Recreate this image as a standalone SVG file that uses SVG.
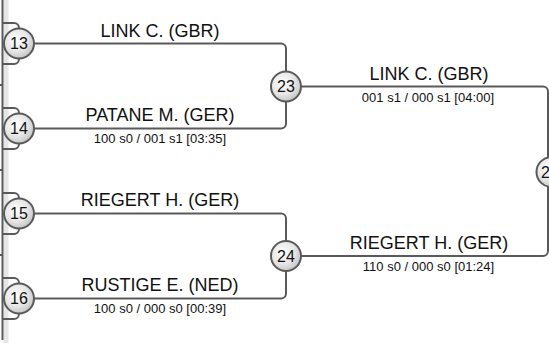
<svg xmlns="http://www.w3.org/2000/svg" width="549" height="343" viewBox="0 0 549 343">
  <defs>
    <radialGradient id="ball" cx="40%" cy="38%" r="65%">
      <stop offset="0" stop-color="#ffffff"/>
      <stop offset="0.6" stop-color="#e6e6e6"/>
      <stop offset="1" stop-color="#c4c4c4"/>
    </radialGradient>
    <style>
      .ln { fill: none; stroke: #5a5a5a; stroke-width: 2; }
      .node circle { fill: url(#ball); stroke: #5a5a5a; stroke-width: 2; }
      .num { font-family: "Liberation Sans", Arial, sans-serif; font-size: 16px; fill: #111; text-anchor: middle; }
      .name { font-family: "Liberation Sans", Arial, sans-serif; font-size: 18px; fill: #111; text-anchor: middle; }
      .score { font-family: "Liberation Sans", Arial, sans-serif; font-size: 13px; fill: #111; text-anchor: middle; }
    </style>
  </defs>
  <rect width="549" height="343" fill="#ffffff"/>
  <rect x="3.5" y="0" width="5" height="343" fill="#e6e6e6"/>

  <g id="connectors">
    <path class="ln" d="M2.5,0 V340"/>
    <path class="ln" d="M0,85 H3 M0,170 H3 M0,255 H3"/>
    <path class="ln" d="M3,23 H14 A5,5 0 0 1 19,28 V43.5 M3,64 H14 A5,5 0 0 0 19,59 V43.5"/>
    <path class="ln" d="M3,108 H14 A5,5 0 0 1 19,113 V128.5 M3,149 H14 A5,5 0 0 0 19,144 V128.5"/>
    <path class="ln" d="M3,193 H14 A5,5 0 0 1 19,198 V213.5 M3,234 H14 A5,5 0 0 0 19,229 V213.5"/>
    <path class="ln" d="M3,278 H14 A5,5 0 0 1 19,283 V298.5 M3,319 H14 A5,5 0 0 0 19,314 V298.5"/>
    <path class="ln" d="M34,43.5 H281 A5,5 0 0 1 286,48.5 V86.5"/>
    <path class="ln" d="M34,128.5 H281 A5,5 0 0 0 286,123.5 V86.5"/>
    <path class="ln" d="M34,213.5 H281 A5,5 0 0 1 286,218.5 V256"/>
    <path class="ln" d="M34,298.5 H281 A5,5 0 0 0 286,293.5 V256"/>
    <path class="ln" d="M301,86.5 H543 A5,5 0 0 1 548,91.5 V172"/>
    <path class="ln" d="M301,256 H543 A5,5 0 0 0 548,251 V172"/>
  </g>

  <g id="node-13" class="node">
    <circle cx="19" cy="43.5" r="15"/>
    <text class="num" x="19" y="49">13</text>
    <text class="name" x="160" y="36.5">LINK C. (GBR)</text>
  </g>
  <g id="node-14" class="node">
    <circle cx="19" cy="128.5" r="15"/>
    <text class="num" x="19" y="134">14</text>
    <text class="name" x="160" y="121">PATANE M. (GER)</text>
    <text class="score" x="160" y="142.5">100 s0 / 001 s1 [03:35]</text>
  </g>
  <g id="node-15" class="node">
    <circle cx="19" cy="213.5" r="15"/>
    <text class="num" x="19" y="219">15</text>
    <text class="name" x="160" y="206">RIEGERT H. (GER)</text>
  </g>
  <g id="node-16" class="node">
    <circle cx="19" cy="298.5" r="15"/>
    <text class="num" x="19" y="304">16</text>
    <text class="name" x="160" y="291">RUSTIGE E. (NED)</text>
    <text class="score" x="160" y="313">100 s0 / 000 s0 [00:39]</text>
  </g>
  <g id="node-23" class="node">
    <circle cx="286" cy="86.5" r="15"/>
    <text class="num" x="286" y="92">23</text>
    <text class="name" x="429" y="80">LINK C. (GBR)</text>
    <text class="score" x="428" y="102">001 s1 / 000 s1 [04:00]</text>
  </g>
  <g id="node-24" class="node">
    <circle cx="286" cy="256" r="15"/>
    <text class="num" x="286" y="261.5">24</text>
    <text class="name" x="429" y="248.5">RIEGERT H. (GER)</text>
    <text class="score" x="428.5" y="270.5">110 s0 / 000 s0 [01:24]</text>
  </g>
  <g id="node-next" class="node">
    <circle cx="551.5" cy="172" r="15"/>
    <text class="num" x="541" y="177.5" style="text-anchor:start">2</text>
  </g>
</svg>
